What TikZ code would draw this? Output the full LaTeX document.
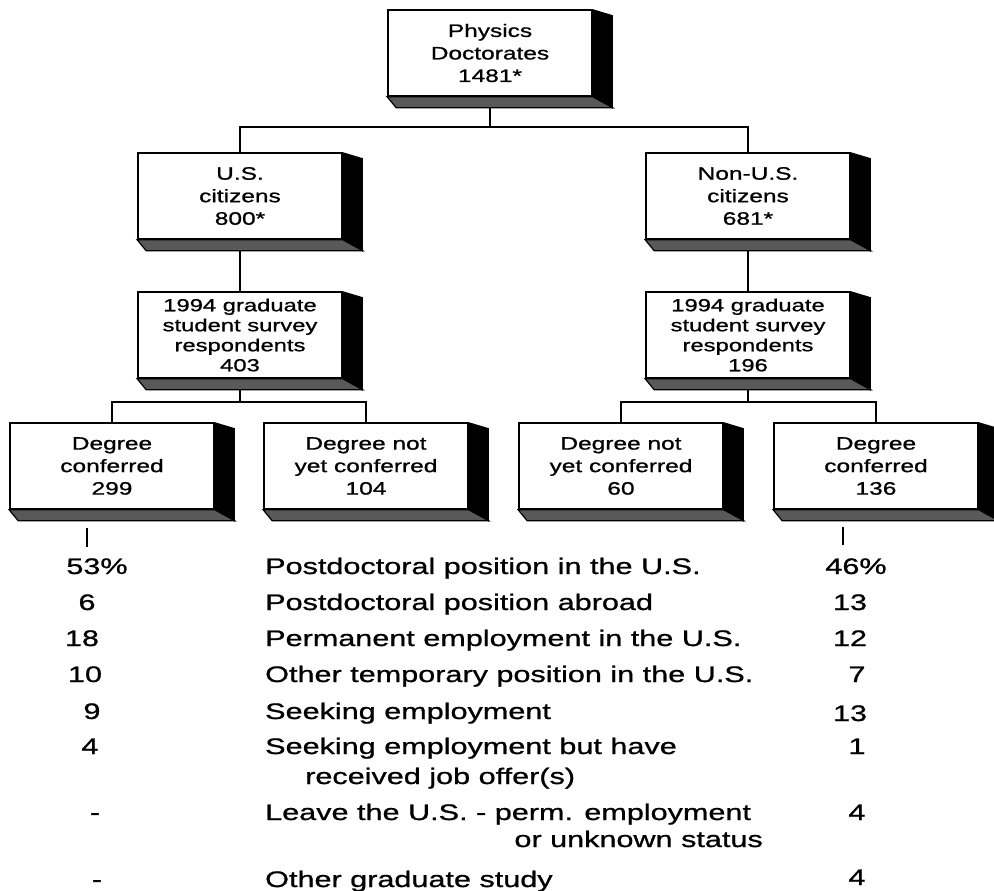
\documentclass[tikz,border=0pt]{standalone}
\usepackage{fontspec}
\setmainfont{Liberation Sans}[FakeStretch=1.36,FakeBold=0.9]
\usetikzlibrary{calc}
\tikzset{
  pbox/.style={draw=black, line width=1.6pt, fill=white, minimum width=204pt, minimum height=86pt, inner sep=0pt, align=center, font=\fontsize{18}{22.5}\selectfont},
  sbox/.style={pbox, font=\fontsize{17.5}{20}\selectfont},
  conn/.style={line width=1.8pt},
  bface/.style={fill=black!65, draw=black, line width=1.2pt},
  rowtext/.style={anchor=base west, inner sep=0pt, font=\fontsize{22.5}{27}\selectfont},
  rowtexte/.style={anchor=base east, inner sep=0pt, font=\fontsize{22.5}{27}\selectfont},
  num/.style={anchor=base, inner sep=0pt, font=\fontsize{22.5}{27}\selectfont},
}
\newcommand{\boxfaces}[1]{%
  \fill[black] (#1.north east) -- ++(20,6) -- ($(#1.south east)+(20,12)$) -- (#1.south east) -- cycle;
  \filldraw[bface] (#1.south west) -- ++(9,11) -- ($(#1.south east)+(20,11)$) -- (#1.south east) -- cycle;
}
\begin{document}
\begin{tikzpicture}[x=1pt,y=-1pt]
\useasboundingbox (0,0) rectangle (994,891);
\fill[white] (0,0) rectangle (994,891);
% boxes
\node[pbox] (phd) at (490,53) {Physics\\Doctorates\\1481*};
\node[pbox] (us) at (240,196) {U.S.\\citizens\\800*};
\node[pbox] (nonus) at (748,196) {Non-U.S.\\citizens\\681*};
\node[sbox] (uss) at (240,335) {1994 graduate\\student survey\\respondents\\403};
\node[sbox] (nus) at (748,335) {1994 graduate\\student survey\\respondents\\196};
\node[pbox] (da) at (112,466) {Degree\\conferred\\299};
\node[pbox] (db) at (366,466) {Degree not\\yet conferred\\104};
\node[pbox] (dc) at (621,466) {Degree not\\yet conferred\\60};
\node[pbox] (dd) at (876,466) {Degree\\conferred\\136};
% connectors
\coordinate (j1) at ($(phd.south)+(0,30)$);
\draw[conn] (phd.south) -- (j1);
\draw[conn] (j1) -| (us.north);
\draw[conn] (j1) -| (nonus.north);
\draw[conn] (us.south) -- (uss.north);
\draw[conn] (nonus.south) -- (nus.north);
\coordinate (j2) at ($(uss.south)+(0,23)$);
\coordinate (j3) at ($(nus.south)+(0,23)$);
\draw[conn] (uss.south) -- (j2);
\draw[conn] (j2) -| (da.north);
\draw[conn] (j2) -| (db.north);
\draw[conn] (nus.south) -- (j3);
\draw[conn] (j3) -| (dc.north);
\draw[conn] (j3) -| (dd.north);
% 3D faces
\boxfaces{phd}
\boxfaces{us}
\boxfaces{nonus}
\boxfaces{uss}
\boxfaces{nus}
\boxfaces{da}
\boxfaces{db}
\boxfaces{dc}
\boxfaces{dd}
% ticks
\coordinate (ta1) at (87,528);
\coordinate (ta2) at (87,547);
\coordinate (td1) at (843,527);
\coordinate (td2) at (843,545);
\draw[conn] (ta1) -- (ta2);
\draw[conn] (td1) -- (td2);
% table
\node[rowtext] (r1) at (265,574) {Postdoctoral position in the U.S.};
\node[rowtext] (r2) at (265,610) {Postdoctoral position abroad};
\node[rowtext] (r3) at (265,646) {Permanent employment in the U.S.};
\node[rowtext] (r4) at (265,682) {Other temporary position in the U.S.};
\node[rowtext] (r5) at (265,719) {Seeking employment};
\node[rowtext] (r6) at (265,754) {Seeking employment but have};
\node[rowtext] (r6b) at (305,784) {received job offer(s)};
\node[rowtext] (r7) at (265,820) {Leave the U.S. - perm. employment};
\node[rowtexte] (r7b) at (763,847) {or unknown status};
\node[rowtext] (r8) at (265,887) {Other graduate study};
% left column
\node[num] (l1) at (97,574) {53\%};
\node[num] (l2) at (87,610) {6};
\node[num] (l3) at (82,646) {18};
\node[num] (l4) at (85,682) {10};
\node[num] (l5) at (92,719) {9};
\node[num] (l6) at (90,754) {4};
\node[num] (l7) at (95,820) {-};
\node[num] (l8) at (97,887) {-};
% right column
\node[num] (n1) at (856,574) {46\%};
\node[num] (n2) at (850,610) {13};
\node[num] (n3) at (850,646) {12};
\node[num] (n4) at (857,682) {7};
\node[num] (n5) at (850,721) {13};
\node[num] (n6) at (857,754) {1};
\node[num] (n7) at (857,820) {4};
\node[num] (n8) at (857,885) {4};
\end{tikzpicture}
\end{document}
